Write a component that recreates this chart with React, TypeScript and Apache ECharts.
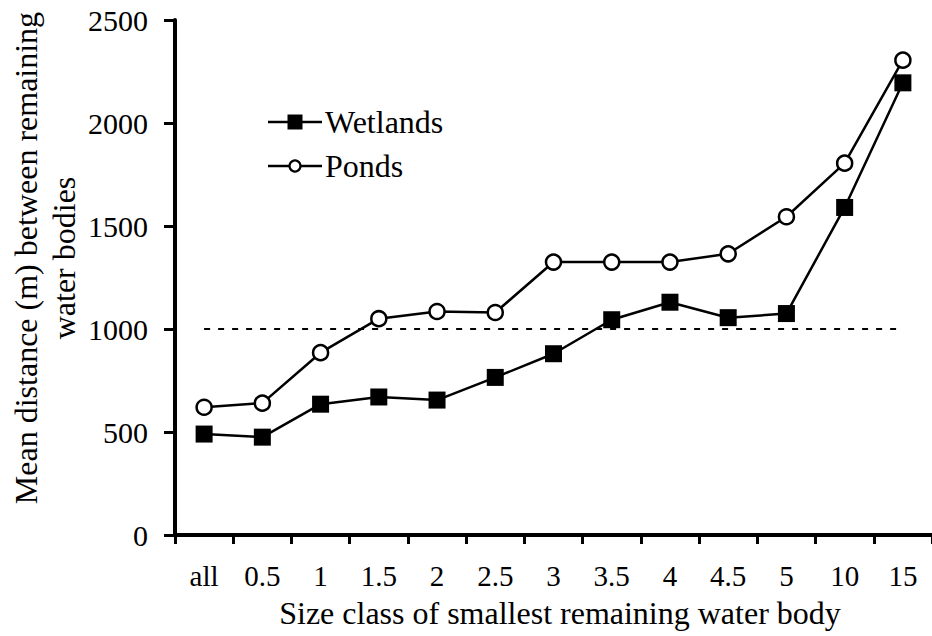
import React, { useEffect, useRef } from "react";
import * as echarts from "echarts";

// Size classes of the smallest remaining water body
const sizeClasses = ["all", "0.5", "1", "1.5", "2", "2.5", "3", "3.5", "4", "4.5", "5", "10", "15"];
// Mean distance (m) between remaining water bodies
const wetlands = [490, 475, 635, 670, 655, 765, 880, 1045, 1130, 1055, 1075, 1590, 2195];
const ponds = [620, 640, 885, 1050, 1085, 1080, 1325, 1325, 1325, 1365, 1545, 1805, 2305];
// Reference distance drawn as a dotted line
const thresholdDistance = 1000;
const yMin = 0;
const yMax = 2500;
const yStep = 500;

const FONT = "Liberation Serif";

export default function App() {
  const ref = useRef<HTMLDivElement>(null);

  useEffect(() => {
    document.body.style.margin = "0";
    if (!ref.current) return;
    const chart = echarts.init(ref.current, undefined, { renderer: "svg" });

    const legendY1 = 122;
    const legendY2 = 166;

    chart.setOption({
      animation: false,
      backgroundColor: "#ffffff",
      textStyle: { fontFamily: FONT },
      grid: { left: 175, top: 20, width: 763, height: 515, containLabel: false },
      xAxis: {
        type: "category",
        data: sizeClasses,
        boundaryGap: true,
        axisLine: { lineStyle: { color: "#000", width: 4 } },
        axisTick: { show: true, length: 9, lineStyle: { color: "#000", width: 3 } },
        axisLabel: { color: "#000", fontFamily: FONT, fontSize: 29, margin: 26 },
        splitLine: { show: false },
      },
      yAxis: {
        type: "value",
        min: yMin,
        max: yMax,
        interval: yStep,
        axisLine: { show: true, lineStyle: { color: "#000", width: 4 } },
        axisTick: { show: true, length: 11, lineStyle: { color: "#000", width: 3 } },
        axisLabel: { color: "#000", fontFamily: FONT, fontSize: 30, margin: 27, formatter: (v: number) => String(v) },
        splitLine: { show: false },
      },
      series: [
        {
          name: "Wetlands",
          type: "line",
          data: wetlands,
          symbol: "rect",
          symbolSize: 17,
          itemStyle: { color: "#000" },
          lineStyle: { color: "#000", width: 2.5 },
          z: 3,
          markLine: {
            silent: true,
            symbol: "none",
            label: { show: false },
            lineStyle: { color: "#000", width: 2.2, type: [6, 8] },
            data: [[{ coord: [sizeClasses[0], thresholdDistance] }, { coord: [sizeClasses[sizeClasses.length - 1], thresholdDistance] }]],
          },
        },
        {
          name: "Ponds",
          type: "line",
          data: ponds,
          symbol: "circle",
          symbolSize: 15,
          itemStyle: { color: "#fff", borderColor: "#000", borderWidth: 2.5 },
          lineStyle: { color: "#000", width: 2.5 },
          z: 4,
        },
      ],
      graphic: [
        // legend
        { type: "line", shape: { x1: 268, y1: legendY1, x2: 322, y2: legendY1 }, style: { stroke: "#000", lineWidth: 2.5 } },
        { type: "rect", shape: { x: 287.5, y: legendY1 - 7.5, width: 15, height: 15 }, style: { fill: "#000" } },
        { type: "text", x: 325, y: legendY1, style: { text: "Wetlands", fontFamily: FONT, fontSize: 32, fill: "#000", textVerticalAlign: "middle" } },
        { type: "line", shape: { x1: 268, y1: legendY2, x2: 322, y2: legendY2 }, style: { stroke: "#000", lineWidth: 2.5 } },
        { type: "circle", shape: { cx: 295, cy: legendY2, r: 5.5 }, style: { fill: "#fff", stroke: "#000", lineWidth: 2.2 } },
        { type: "text", x: 325, y: legendY2, style: { text: "Ponds", fontFamily: FONT, fontSize: 32, fill: "#000", textVerticalAlign: "middle" } },
        // axis titles
        {
          type: "text",
          x: 26,
          y: 258,
          rotation: Math.PI / 2,
          style: { text: "Mean distance (m) between remaining", fontFamily: FONT, fontSize: 32, fill: "#000", textAlign: "center", textVerticalAlign: "middle" },
        },
        {
          type: "text",
          x: 64,
          y: 258,
          rotation: Math.PI / 2,
          style: { text: "water bodies", fontFamily: FONT, fontSize: 32, fill: "#000", textAlign: "center", textVerticalAlign: "middle" },
        },
        {
          type: "text",
          x: 560,
          y: 613,
          style: { text: "Size class of smallest remaining water body", fontFamily: FONT, fontSize: 32, fill: "#000", textAlign: "center", textVerticalAlign: "middle" },
        },
      ],
    });

    return () => chart.dispose();
  }, []);

  return <div ref={ref} style={{ width: 932, height: 636 }} />;
}
